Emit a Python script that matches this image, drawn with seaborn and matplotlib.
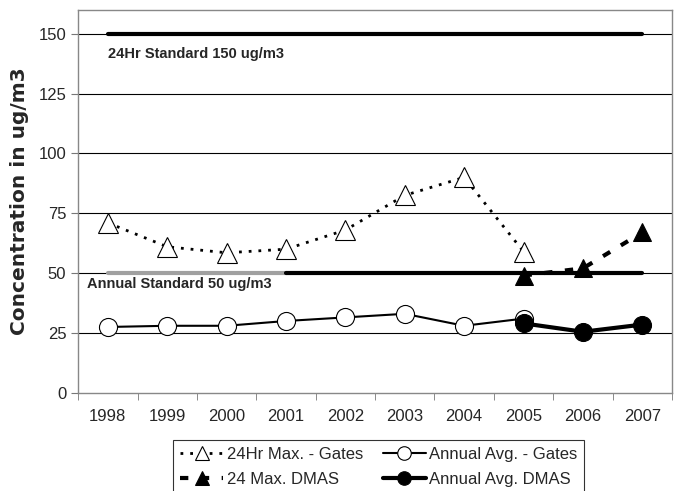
import numpy as np
import pandas as pd
import matplotlib
matplotlib.use('Agg')
import matplotlib.pyplot as plt
import seaborn as sns

# data
years = [1998, 1999, 2000, 2001, 2002, 2003, 2004, 2005, 2006, 2007]
max24_gates = [71, 61, 58.5, 60, 68, 82.5, 90, 59]
annual_gates = [27.5, 28, 28, 30, 31.5, 33, 28, 31]
dmas_years = [2005, 2006, 2007]
max24_dmas = [49, 52, 67]
annual_dmas = [29, 25.5, 28.5]
std_24hr = 150
std_annual = 50

sns.set_style('white')
plt.rcParams['font.family'] = ['Liberation Sans', 'DejaVu Sans']

fig = plt.figure(figsize=(6.74, 4.91), dpi=100)
ax = fig.add_axes([0.116, 0.2, 0.881, 0.78])

gates_df = pd.DataFrame({'year': years[:8], 'max24': max24_gates, 'annual': annual_gates})
dmas_df = pd.DataFrame({'year': dmas_years, 'max24': max24_dmas, 'annual': annual_dmas})

# gridlines
for v in [25, 50, 75, 100, 125, 150]:
    ax.axhline(v, color='black', lw=0.8, zorder=0)

# standard lines
ax.plot([years[0], years[-1]], [std_24hr, std_24hr], color='black', lw=3, zorder=1)
ax.plot([years[0], 2001], [std_annual, std_annual], color='#a0a0a0', lw=3, zorder=1)
ax.plot([2001, years[-1]], [std_annual, std_annual], color='black', lw=3, zorder=1)

sns.lineplot(data=gates_df, x='year', y='max24', ax=ax, color='black', lw=2,
             linestyle=(0, (1, 2.5)), marker='^', markersize=14, markerfacecolor='white',
             markeredgecolor='black', markeredgewidth=0.8, label='24Hr Max. - Gates', zorder=3)
sns.lineplot(data=dmas_df, x='year', y='max24', ax=ax, color='black', lw=3,
             linestyle=(0, (2, 3)), marker='^', markersize=13, markerfacecolor='black',
             markeredgecolor='black', label='24 Max. DMAS', zorder=3)
sns.lineplot(data=gates_df, x='year', y='annual', ax=ax, color='black', lw=1.5,
             marker='o', markersize=13, markerfacecolor='white',
             markeredgecolor='black', markeredgewidth=0.8, label='Annual Avg. - Gates', zorder=3)
sns.lineplot(data=dmas_df, x='year', y='annual', ax=ax, color='black', lw=3,
             marker='o', markersize=13, markerfacecolor='black',
             markeredgecolor='black', label='Annual Avg. DMAS', zorder=4)

ax.text(1998, 141.5, '24Hr Standard 150 ug/m3', fontsize=10.5, fontweight='bold', va='center', ha='left')
ax.text(1997.65, 45.5, 'Annual Standard 50 ug/m3', fontsize=10.5, fontweight='bold', va='center', ha='left')

ax.set_xlim(1997.5, 2007.5)
ax.set_ylim(0, 160)
ax.set_yticks([0, 25, 50, 75, 100, 125, 150])
ax.set_xticks(years)
ax.set_xticks(np.arange(1997.5, 2008, 1), minor=True)
ax.tick_params(axis='x', which='major', length=0, pad=12, labelsize=12)
ax.tick_params(axis='x', which='minor', length=5, direction='out', color='#777777', bottom=True)
ax.tick_params(axis='y', length=5, direction='out', color='#777777', left=True, labelsize=12)
ax.set_xlabel('')
ax.set_ylabel('Concentration in ug/m3', fontsize=14.5, fontweight='bold',
              family=['DejaVu Sans'], labelpad=7)
for s in ax.spines.values():
    s.set_color('#888888')
    s.set_linewidth(1)

ax.get_legend().remove()
h, l = ax.get_legend_handles_labels()
leg = fig.legend(h, l, loc='upper center', bbox_to_anchor=(0.562, 0.121), ncol=2,
                 fontsize=12, frameon=True, fancybox=False, edgecolor='black',
                 handlelength=2.6, columnspacing=1.2, labelspacing=0.6, borderpad=0.4,
                 handletextpad=0.2, markerscale=0.75)
leg.get_frame().set_linewidth(0.8)

fig.savefig('out.png', dpi=100)
